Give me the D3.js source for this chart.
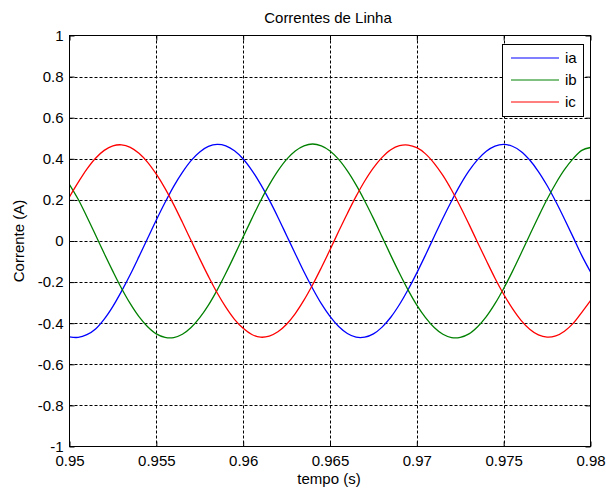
<!DOCTYPE html>
<html>
<head>
<meta charset="utf-8">
<script src="https://cdn.jsdelivr.net/npm/d3@7"></script>
<style>
  html, body { margin: 0; padding: 0; background: #fff; }
  svg { display: block; font-family: "Liberation Sans", Arial, sans-serif; }
</style>
</head>
<body>
<svg id="chart" width="606" height="491"></svg>
<script>
// Sampling instants (s)
const tempo = [
  0.9500,0.9505,0.9510,0.9515,0.9520,0.9525,0.9530,0.9535,0.9540,0.9545,
  0.9550,0.9555,0.9560,0.9565,0.9570,0.9575,0.9580,0.9585,0.9590,0.9595,
  0.9600,0.9605,0.9610,0.9615,0.9620,0.9625,0.9630,0.9635,0.9640,0.9645,
  0.9650,0.9655,0.9660,0.9665,0.9670,0.9675,0.9680,0.9685,0.9690,0.9695,
  0.9700,0.9705,0.9710,0.9715,0.9720,0.9725,0.9730,0.9735,0.9740,0.9745,
  0.9750,0.9755,0.9760,0.9765,0.9770,0.9775,0.9780,0.9785,0.9790,0.9795,
  0.9800
];

// Line currents (A)
const ia = [
  -0.467,-0.469,-0.456,-0.428,-0.380,-0.318,-0.244,-0.163,-0.076,0.013,
  0.102,0.187,0.266,0.334,0.391,0.433,0.460,0.470,0.463,0.439,
  0.399,0.344,0.277,0.200,0.116,0.027,-0.062,-0.150,-0.231,-0.305,
  -0.367,-0.416,-0.450,-0.468,-0.468,-0.452,-0.419,-0.371,-0.309,-0.236,
  -0.155,-0.068,0.022,0.111,0.195,0.273,0.341,0.396,0.437,0.462,
  0.470,0.461,0.436,0.394,0.338,0.270,0.192,0.107,0.019,-0.071,
  -0.150
];
const ib = [
  0.275,0.203,0.118,0.029,-0.061,-0.148,-0.231,-0.305,-0.368,-0.417,
  -0.452,-0.469,-0.470,-0.454,-0.421,-0.373,-0.312,-0.239,-0.157,-0.070,
  0.020,0.109,0.195,0.273,0.341,0.397,0.438,0.463,0.472,0.463,
  0.438,0.397,0.341,0.273,0.195,0.110,0.020,-0.070,-0.157,-0.239,
  -0.312,-0.373,-0.421,-0.454,-0.470,-0.469,-0.452,-0.417,-0.368,-0.305,
  -0.231,-0.149,-0.061,0.029,0.118,0.203,0.280,0.347,0.401,0.441,
  0.455
];
const ic = [
  0.215,0.285,0.350,0.403,0.441,0.463,0.468,0.456,0.427,0.383,
  0.325,0.256,0.177,0.091,0.002,-0.087,-0.172,-0.252,-0.322,-0.381,
  -0.425,-0.455,-0.468,-0.463,-0.442,-0.405,-0.353,-0.288,-0.213,-0.130,
  -0.043,0.047,0.134,0.217,0.292,0.356,0.407,0.444,0.464,0.467,
  0.454,0.424,0.378,0.319,0.248,0.168,0.082,-0.007,-0.095,-0.181,
  -0.259,-0.328,-0.386,-0.429,-0.457,-0.468,-0.462,-0.439,-0.401,-0.347,
  -0.290
];

const seriesNames = ["ia", "ib", "ic"];
const seriesColors = ["#0000ff", "#008000", "#ff0000"];

const xTicks = [0.95, 0.955, 0.96, 0.965, 0.97, 0.975, 0.98];
const xTickLabels = ["0.95", "0.955", "0.96", "0.965", "0.97", "0.975", "0.98"];
const yTicks = [-1, -0.8, -0.6, -0.4, -0.2, 0, 0.2, 0.4, 0.6, 0.8, 1];
const yTickLabels = ["-1", "-0.8", "-0.6", "-0.4", "-0.2", "0", "0.2", "0.4", "0.6", "0.8", "1"];

const titleText = "Correntes de Linha";
const xLabelText = "tempo (s)";
const yLabelText = "Corrente (A)";

// Layout
const svg = d3.select("#chart");
const L = 69.5, R = 590.5, T = 35.5, B = 446.5;
const FONT = 15;

const x = d3.scaleLinear().domain([0.95, 0.98]).range([L, R]);
const y = d3.scaleLinear().domain([-1, 1]).range([B, T]);

svg.append("rect").attr("width", 606).attr("height", 491).attr("fill", "#fff");

// Dashed grid
const grid = svg.append("g").attr("stroke", "#000").attr("stroke-width", 1)
  .attr("stroke-dasharray", "3,2").attr("fill", "none");
grid.selectAll(".gx").data(xTicks.slice(1, -1)).join("line")
  .attr("x1", d => Math.round(x(d)) + 0.5).attr("x2", d => Math.round(x(d)) + 0.5)
  .attr("y1", T).attr("y2", B);
grid.selectAll(".gy").data(yTicks.slice(1, -1)).join("line")
  .attr("y1", d => Math.round(y(d)) + 0.5).attr("y2", d => Math.round(y(d)) + 0.5)
  .attr("x1", L).attr("x2", R);

// Curves
svg.append("clipPath").attr("id", "plotclip")
  .append("rect").attr("x", L).attr("y", T).attr("width", R - L).attr("height", B - T);

const line = d3.line()
  .x(d => x(d[0]))
  .y(d => y(d[1]))
  .curve(d3.curveCatmullRom.alpha(0.5));

const allSeries = [ia, ib, ic];
svg.append("g").attr("clip-path", "url(#plotclip)")
  .selectAll("path").data(allSeries).join("path")
  .attr("d", s => line(tempo.map((t, i) => [t, s[i]])))
  .attr("fill", "none")
  .attr("stroke", (d, i) => seriesColors[i])
  .attr("stroke-width", 1.3);

// Axes with inward ticks on all four sides
function styleAxis(g) {
  g.select(".domain").remove();
  g.selectAll(".tick line").attr("stroke", "#000").attr("stroke-width", 1);
  g.selectAll("text").attr("fill", "#000").attr("font-size", FONT)
    .attr("font-family", "Liberation Sans, Arial, sans-serif");
}

svg.append("g").attr("transform", `translate(0,${B})`)
  .call(d3.axisBottom(x).tickValues(xTicks).tickSizeInner(-5).tickSizeOuter(0)
    .tickPadding(9).tickFormat((d, i) => xTickLabels[i]))
  .call(styleAxis);

svg.append("g").attr("transform", `translate(0,${T})`)
  .call(d3.axisTop(x).tickValues(xTicks).tickSizeInner(-5).tickSizeOuter(0)
    .tickFormat(""))
  .call(styleAxis);

svg.append("g").attr("transform", `translate(${L},0)`)
  .call(d3.axisLeft(y).tickValues(yTicks).tickSizeInner(-5).tickSizeOuter(0)
    .tickPadding(6).tickFormat((d, i) => yTickLabels[i]))
  .call(styleAxis);

svg.append("g").attr("transform", `translate(${R},0)`)
  .call(d3.axisRight(y).tickValues(yTicks).tickSizeInner(-5).tickSizeOuter(0)
    .tickFormat(""))
  .call(styleAxis);

// Axes box
svg.append("rect").attr("x", L).attr("y", T).attr("width", R - L).attr("height", B - T)
  .attr("fill", "none").attr("stroke", "#000").attr("stroke-width", 1);

// Title and axis labels
svg.append("text").attr("x", 328).attr("y", 23).attr("text-anchor", "middle")
  .attr("font-size", FONT).attr("fill", "#000").text(titleText);
svg.append("text").attr("x", 329).attr("y", 484).attr("text-anchor", "middle")
  .attr("font-size", FONT).attr("fill", "#000").text(xLabelText);
svg.append("text").attr("transform", "translate(24,241) rotate(-90)")
  .attr("text-anchor", "middle").attr("font-size", FONT).attr("fill", "#000").text(yLabelText);

// Legend
const leg = svg.append("g");
leg.append("rect").attr("x", 502.5).attr("y", 44.5).attr("width", 81).attr("height", 72)
  .attr("fill", "#fff").attr("stroke", "#000").attr("stroke-width", 1);
const rows = leg.selectAll(".row").data(seriesNames).join("g")
  .attr("transform", (d, i) => `translate(0,${58 + i * 22})`);
rows.append("line").attr("x1", 511).attr("x2", 559).attr("y1", 0).attr("y2", 0)
  .attr("stroke", (d, i) => seriesColors[i]).attr("stroke-width", 1);
rows.append("text").attr("x", 565).attr("y", 5).attr("font-size", FONT)
  .attr("fill", "#000").text(d => d);
</script>
</body>
</html>
